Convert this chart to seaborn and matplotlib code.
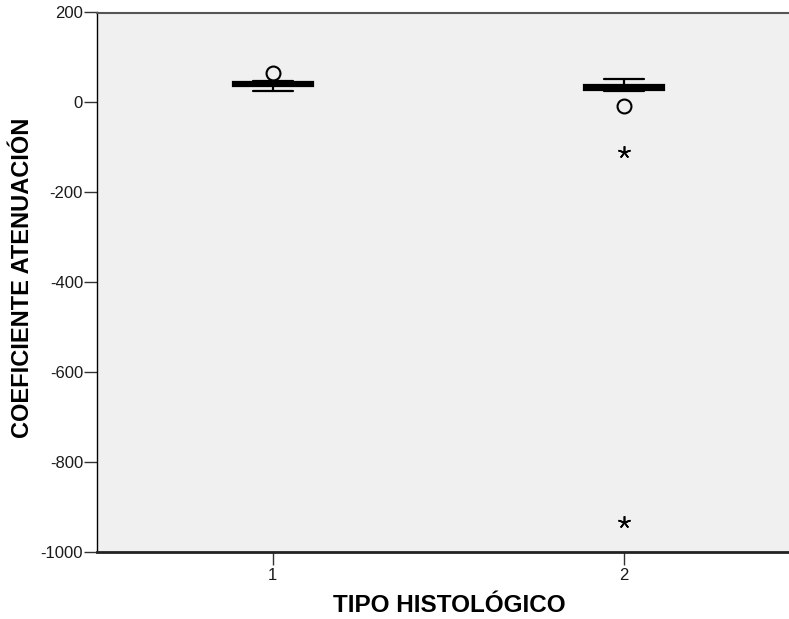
import numpy as np
import pandas as pd
import matplotlib
matplotlib.use("Agg")
import matplotlib.pyplot as plt
import seaborn as sns

# Attenuation coefficient by histological type
tipo_1 = [25, 33, 35, 36, 38, 40, 41, 43, 46, 47, 48, 65]
tipo_2 = [-933, -111, -7, 25, 27, 28, 29, 30, 32, 33, 35, 36, 38, 40, 41, 42, 45, 51]
categorias = ["1", "2"]
y_ticks = [200, 0, -200, -400, -600, -800, -1000]

df = pd.DataFrame({
    "tipo": ["1"] * len(tipo_1) + ["2"] * len(tipo_2),
    "coef": tipo_1 + tipo_2,
})

sns.set_style("white")
plt.rcParams["font.family"] = ["Liberation Sans", "DejaVu Sans"]

fig = plt.figure(figsize=(7.89, 6.19), dpi=100)
ax = fig.add_axes([97 / 789, 1 - 552 / 619, 703 / 789, 539.5 / 619])
ax.set_facecolor("#F0F0F0")

sns.boxplot(
    data=df, x="tipo", y="coef", order=categorias, ax=ax,
    width=0.228, whis=1.5, showfliers=False,
    color="black", linecolor="black", linewidth=1.6,
    boxprops=dict(facecolor="black", edgecolor="black"),
    medianprops=dict(color="black", linewidth=3),
)

# Outliers: circles beyond 1.5 IQR, stars beyond 3 IQR
for i, vals in enumerate([tipo_1, tipo_2]):
    v = np.asarray(vals, dtype=float)
    q1, q3 = np.percentile(v, [25, 75])
    iqr = q3 - q1
    out = v[(v < q1 - 1.5 * iqr) | (v > q3 + 1.5 * iqr)]
    extreme = (out < q1 - 3 * iqr) | (out > q3 + 3 * iqr)
    ax.plot(np.full((~extreme).sum(), i), out[~extreme], linestyle="none",
            marker="o", markersize=10, markerfacecolor="none",
            markeredgecolor="black", markeredgewidth=1.5)
    ax.plot(np.full(extreme.sum(), i), out[extreme], linestyle="none",
            marker=(5, 2, 0), markersize=9, color="black", markeredgewidth=1.2)

ax.set_xlim(-0.5, 1.5)
ax.set_ylim(-1000, 200)
ax.set_yticks(y_ticks)
ax.set_yticklabels([str(t) for t in y_ticks])

for side in ["left", "bottom", "top", "right"]:
    ax.spines[side].set_visible(True)
ax.spines["left"].set_color("black")
ax.spines["left"].set_linewidth(1.0)
ax.spines["bottom"].set_color("#222222")
ax.spines["bottom"].set_linewidth(2.0)
ax.spines["top"].set_color("#555555")
ax.spines["top"].set_linewidth(1.5)
ax.spines["right"].set_visible(False)

ax.tick_params(axis="both", direction="out", length=9.5, width=1, color="#333333",
               labelsize=12, labelcolor="#1a1a1a", left=True, bottom=True)
ax.tick_params(axis="y", pad=0.5)
ax.tick_params(axis="x", pad=2)

ax.set_xlabel("TIPO HISTOLÓGICO", fontsize=17.5, fontweight="bold", color="black")
ax.set_ylabel("COEFICIENTE ATENUACIÓN", fontsize=17, fontweight="bold", color="black")
ax.xaxis.label.set_verticalalignment("baseline")
ax.xaxis.set_label_coords((449 - 97) / 703, -(612 - 552) / 539.5)
ax.yaxis.label.set_verticalalignment("center")
ax.yaxis.set_label_coords(-(97 - 23) / 703, (552 - 278) / 539.5)

fig.savefig("out.png", dpi=100)
